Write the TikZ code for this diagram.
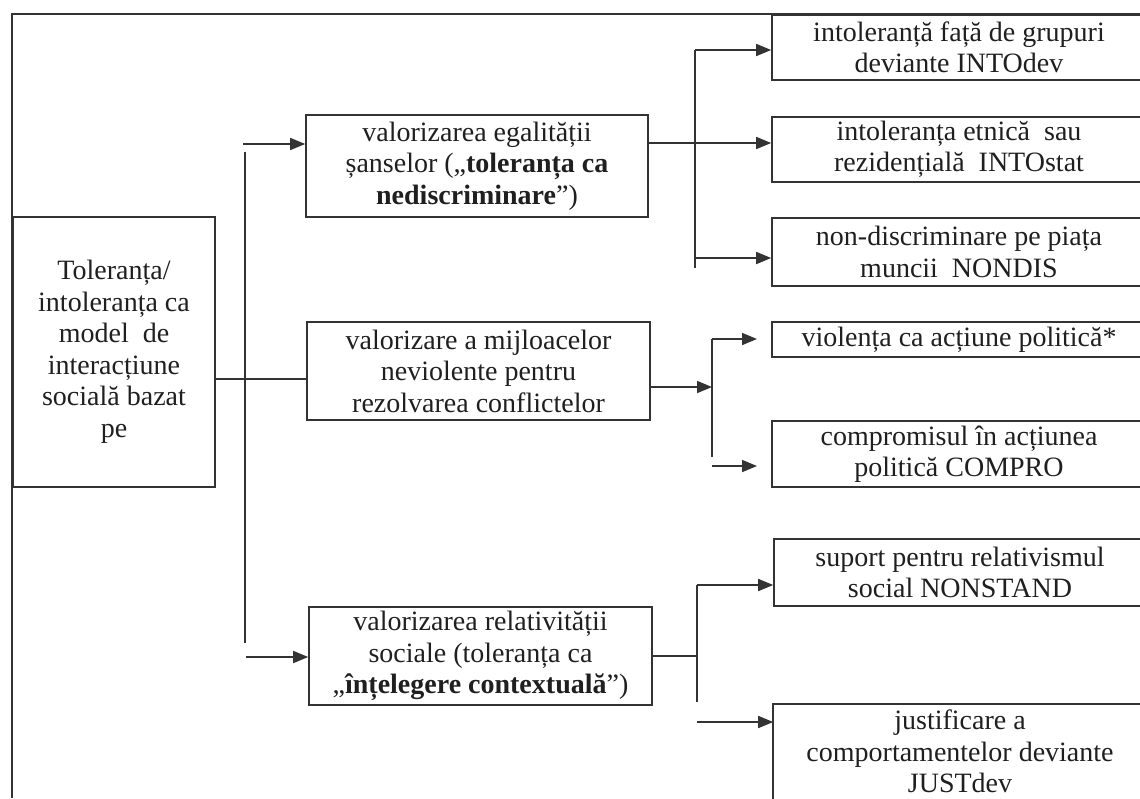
\documentclass[tikz,border=0pt]{standalone}
\usepackage{fontspec}
\setmainfont{Liberation Serif}
\usetikzlibrary{arrows.meta}
\colorlet{linecol}{black!80}
\tikzstyle{box}=[draw=linecol,line width=1.6,inner sep=0,align=center,text=black!88,font=\fontsize{28}{31.5}\selectfont]
\tikzstyle{link}=[linecol,line width=1.6]
\tikzstyle{arr}=[link,-{Triangle[length=15pt,width=12pt]}]

\begin{document}
\begin{tikzpicture}[x=1pt,y=-1pt]
        \def\xmid{478}
        \def\xend{959}
        \useasboundingbox (0,0) rectangle (1140,798);
        \clip (0,0) rectangle (1140,798);

        \draw[link] (12,798) -- (12,14) -- (1140,14);

        \node[box,minimum width=202pt,minimum height=270pt] (main) at (114,352)
            {Toleranța/\\intoleranța ca\\model~ de\\interacțiune\\socială bazat\\pe};

        \node[box,minimum width=342pt,minimum height=102pt] (egal) at (\xmid-1,166)
            {valorizarea egalității\\șanselor („\textbf{toleranța ca}\\\textbf{nediscriminare}”)};
        \node[box,minimum width=343pt,minimum height=98pt] (mijl) at (\xmid+0.5,371)
            {valorizare a mijloacelor\\neviolente pentru\\rezolvarea conflictelor};
        \node[box,minimum width=343pt,minimum height=98pt] (relat) at (\xmid+2.5,656)
            {valorizarea relativității\\sociale (toleranța ca\\„\textbf{înțelegere contextuală}”)};

        \node[box,minimum width=374pt,minimum height=65pt] (intodev) at (\xend,47.5)
            {intoleranță față de grupuri\\deviante INTOdev};
        \node[box,minimum width=374pt,minimum height=65pt] (intostat) at (\xend,149.5)
            {intoleranța etnică~ sau\\rezidențială~ INTOstat};
        \node[box,minimum width=374pt,minimum height=68pt] (nondis) at (\xend,252)
            {non-discriminare pe piața\\muncii~ NONDIS};
        \node[box,minimum width=374pt,minimum height=35pt] (violenta) at (\xend,339.5)
            {violența ca acțiune politică*};
        \node[box,minimum width=374pt,minimum height=66pt] (compro) at (\xend,454)
            {compromisul în acțiunea\\politică COMPRO};
        \node[box,minimum width=372pt,minimum height=67pt] (nonstand) at (\xend+1,572.5)
            {suport pentru relativismul\\social NONSTAND};
        \node[box,draw=none,minimum width=372pt,minimum height=93pt] (justdev) at (\xend+1,751.5)
            {justificare a\\comportamentelor deviante\\JUSTdev};
        \draw[link] (justdev.south west) -- (justdev.north west) -- (justdev.north east);

        \coordinate (t1) at (243,144);
        \coordinate (ttop) at (245,152);
        \coordinate (tbot) at (245,643);
        \coordinate (t3) at (246,657);
        \draw[link] (ttop) -- (tbot);
        \draw[arr] (t1) -- (t1 -| egal.west);
        \draw[arr] (t3) -- (t3 -| relat.west);
        \draw[link] ([yshift=-27pt]main.east) -- ([yshift=-8pt]mijl.west);

        \coordinate (b1top) at (695,50);
        \coordinate (b1bot) at (695,268);
        \coordinate (b1c) at (695,258);
        \draw[link] (b1top) -- (b1bot);
        \draw[arr] ([yshift=23pt]egal.east) -- ([yshift=6.5pt]intostat.west);
        \draw[arr] (b1top) -- (b1top -| intodev.west);
        \draw[arr] (b1c) -- (b1c -| nondis.west);

        \coordinate (b2top) at (712,339);
        \coordinate (b2bot) at (712,457);
        \coordinate (b2in) at (712,387);
        \coordinate (b2e) at (712,466);
        \coordinate (dtip) at (757,339);
        \coordinate (etip) at (757,466);
        \draw[link] (b2top) -- (b2bot);
        \draw[arr] (mijl.east |- b2in) -- (b2in);
        \draw[arr] (b2top) -- (dtip);
        \draw[arr] (b2e) -- (etip);

        \coordinate (b3top) at (697,585);
        \coordinate (b3bot) at (697,702);
        \coordinate (b3g) at (697,722);
        \draw[link] (b3top) -- (b3bot);
        \draw[link] (relat.east) -- (relat.east -| b3top);
        \draw[arr] (b3top) -- (b3top -| nonstand.west);
        \draw[arr] (b3g) -- (b3g -| justdev.west);
    \end{tikzpicture}
\end{document}
